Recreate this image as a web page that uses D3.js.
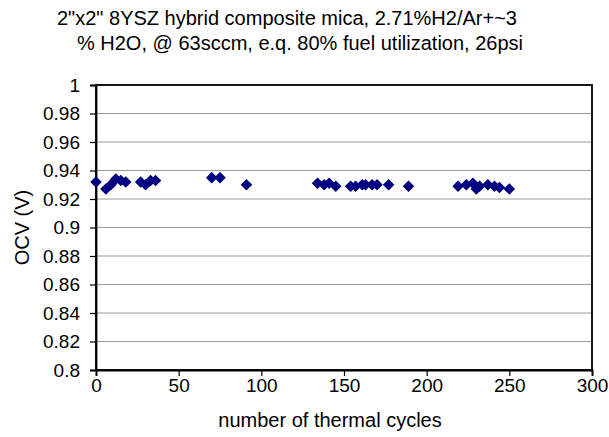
<!DOCTYPE html>
<html>
<head>
<meta charset="utf-8">
<script src="https://cdn.jsdelivr.net/npm/d3@7"></script>
<style>
body { margin: 0; background: #fff; }
text { font-family: "Liberation Sans", Arial, sans-serif; fill: #000; }
</style>
</head>
<body>
<svg></svg>
<script>
// OCV vs thermal cycles

let svgWidth = 609;
let svgHeight = 437;

let cycles = [0, 6, 9, 12, 15, 18, 27, 30, 33, 36, 70, 75, 91,
	134, 138, 141, 145, 154, 157, 161, 163, 167, 170, 177, 189,
	219, 224, 228, 230, 232, 237, 241, 244, 250];
let ocv = [0.932, 0.927, 0.930, 0.934, 0.933, 0.932, 0.932, 0.930, 0.933, 0.933, 0.935, 0.935, 0.930,
	0.931, 0.930, 0.931, 0.929, 0.929, 0.929, 0.930, 0.930, 0.930, 0.930, 0.930, 0.929,
	0.929, 0.930, 0.931, 0.927, 0.929, 0.930, 0.929, 0.928, 0.927];

let xTicks = [0, 50, 100, 150, 200, 250, 300];
let yTicks = [0.8, 0.82, 0.84, 0.86, 0.88, 0.9, 0.92, 0.94, 0.96, 0.98, 1];

let titleLines = ['2"x2" 8YSZ hybrid composite mica, 2.71%H2/Ar+~3',
	'% H2O, @ 63sccm, e.q. 80% fuel utilization, 26psi'];

let margin = {left: 96, right: 17, top: 85, bottom: 67};

let svg = d3.select('svg')
	.attr("width", svgWidth)
	.attr("height", svgHeight);

let xScale = d3.scaleLinear()
	.domain([0, 300])
	.range([margin.left, svgWidth - margin.right]);

let yScale = d3.scaleLinear()
	.domain([0.8, 1])
	.range([svgHeight - margin.bottom, margin.top]);

// gridlines
svg.append("g")
	.selectAll("line")
	.data(yTicks.slice(1, -1))
	.enter()
	.append("line")
	.attr("x1", xScale(0))
	.attr("x2", xScale(300))
	.attr("y1", d => yScale(d))
	.attr("y2", d => yScale(d))
	.attr("stroke", "#9a9a9a")
	.attr("stroke-width", 1);

// frame
svg.append("rect")
	.attr("x", xScale(0))
	.attr("y", yScale(1))
	.attr("width", xScale(300) - xScale(0))
	.attr("height", yScale(0.8) - yScale(1))
	.attr("fill", "none")
	.attr("stroke", "#000")
	.attr("stroke-width", 1.8);

// axes
let xAxis = svg.append("g")
	.attr("transform", "translate(0," + yScale(0.8) + ")")
	.call(d3.axisBottom(xScale).tickValues(xTicks).tickSize(6).tickPadding(3).tickFormat(d3.format("d")));

let yAxis = svg.append("g")
	.attr("transform", "translate(" + xScale(0) + ",0)")
	.call(d3.axisLeft(yScale).tickValues(yTicks).tickSize(6).tickPadding(10).tickFormat(d => d3.format("")(+d.toFixed(2))));

[xAxis, yAxis].forEach(function (a) {
	a.select(".domain").attr("stroke", "#000").attr("stroke-width", 1.8);
	a.selectAll(".tick line").attr("stroke", "#000").attr("stroke-width", 1.2);
	a.selectAll("text").style("font-size", "19px").attr("fill", "#000");
});

// points
svg.append("g")
	.selectAll("path")
	.data(cycles)
	.enter()
	.append("path")
	.attr("d", d3.symbol().type(d3.symbolDiamond2).size(85))
	.attr("transform", function (d, i) {
		return "translate(" + xScale(d) + "," + yScale(ocv[i]) + ")";
	})
	.attr("fill", "#000080");

// titles
svg.append("g")
	.selectAll("text")
	.data(titleLines)
	.enter()
	.append("text")
	.text(d => d)
	.attr("x", (d, i) => i === 0 ? 287 : 300)
	.attr("y", (d, i) => 25 + i * 25)
	.attr("text-anchor", "middle")
	.style("font-size", "20px");

svg.append("text")
	.text("number of thermal cycles")
	.attr("x", 330)
	.attr("y", 427)
	.attr("text-anchor", "middle")
	.style("font-size", "20px");

svg.append("text")
	.text("OCV (V)")
	.attr("transform", "translate(29," + yScale(0.9) + ") rotate(-90)")
	.attr("text-anchor", "middle")
	.style("font-size", "20px");
</script>
</body>
</html>
